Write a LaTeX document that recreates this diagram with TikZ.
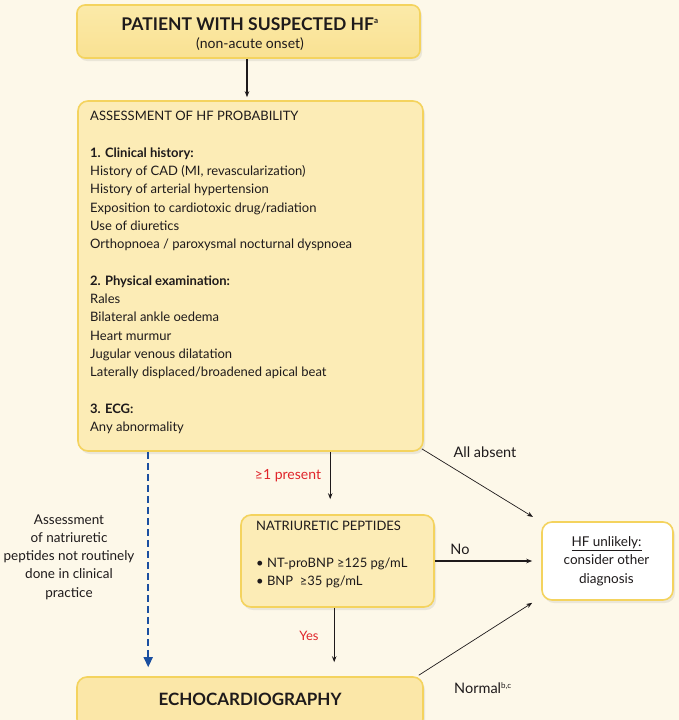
\documentclass[tikz,border=0pt]{standalone}
\usepackage{fontspec}
\setmainfont{Lato}
\usetikzlibrary{arrows.meta,calc,shadows}
\definecolor{bg}{HTML}{FDF8E9}
\definecolor{boxfill}{HTML}{FCECB6}
\definecolor{boxline}{HTML}{F4D35E}
\definecolor{topA}{HTML}{FBEAA9}
\definecolor{topB}{HTML}{F9E192}
\definecolor{echofill}{HTML}{FBE7A8}
\definecolor{txt}{HTML}{1E1A1B}
\definecolor{redtxt}{HTML}{E0242A}
\definecolor{bluearr}{HTML}{1B4FA0}
\begin{document}
\begin{tikzpicture}[x=1pt,y=-1pt,
  font=\fontsize{13}{18.3}\selectfont, text=txt,
  box/.style={draw=boxline, line width=1.6pt, fill=boxfill, rounded corners=10pt,
    inner sep=0pt, drop shadow={opacity=0.10, shadow xshift=2pt, shadow yshift=-3pt, fill=black!70}},
  whitebox/.style={box, fill=white},
  topbox/.style={box, rounded corners=8pt, top color=topA, bottom color=topB},
  lbl/.style={inner sep=0pt, align=left},
  arr/.style={draw=txt, line width=1.2pt, -{Stealth[length=6pt,width=4.5pt]}},
  thin/.style={draw=txt, line width=0.7pt, -{Stealth[length=6pt,width=4.5pt]}},
  dasharr/.style={draw=bluearr, line width=1.5pt, dash pattern=on 7pt off 4pt,
    -{Triangle[length=10pt,width=9pt]}},
  redlbl/.style={text=redtxt, inner sep=0pt},
  biglbl/.style={inner sep=0pt, font=\fontsize{14.5}{18}\selectfont},
]
\clip (0,0) rectangle (679,720);
\fill[bg] (0,0) rectangle (679,720);
\useasboundingbox (0,0) rectangle (679,720);

% boxes
\node[topbox, minimum width=343pt, minimum height=53pt] (top) at (248.5,31.5) {};
\node[box, minimum width=345pt, minimum height=350pt] (assess) at (250.5,276) {};
\node[box, minimum width=193pt, minimum height=92pt] (nat) at (337.5,561) {};
\node[whitebox, minimum width=131pt, minimum height=78pt] (hf) at (607.5,561) {};
\node[box, fill=echofill, minimum width=346pt, minimum height=52pt] (echo) at (250,703) {};

% texts
\node[inner sep=0pt, align=center] (toptxt) at (250,34)
  {{\fontsize{17.5}{20}\selectfont\bfseries PATIENT WITH SUSPECTED HF\textsuperscript{\fontsize{8}{8}\selectfont a}}\\[0pt]
   {\fontsize{14}{18}\selectfont (non-acute onset)}};

\node[lbl, anchor=north west] (assesstxt) at (90,111)
  {ASSESSMENT OF HF PROBABILITY\\[18.3pt]
   \textbf{1. Clinical history:}\\
   History of CAD (MI, revascularization)\\
   History of arterial hypertension\\
   Exposition to cardiotoxic drug/radiation\\
   Use of diuretics\\
   Orthopnoea / paroxysmal nocturnal dyspnoea\\[18.3pt]
   \textbf{2. Physical examination:}\\
   Rales\\
   Bilateral ankle oedema\\
   Heart murmur\\
   Jugular venous dilatation\\
   Laterally displaced/broadened apical beat\\[18.3pt]
   \textbf{3. ECG:}\\
   Any abnormality};

\node[lbl, anchor=north west] (nattxt) at (256,521)
  {NATRIURETIC PEPTIDES\\[18.3pt]
   • NT-proBNP ≥125 pg/mL\\
   • BNP\ \ ≥35 pg/mL};

\node[inner sep=0pt, align=center, font=\fontsize{13.5}{18.5}\selectfont] (hftxt) at (606.5,561)
  {\underline{HF unlikely:}\\ consider other\\ diagnosis};

\node[inner sep=0pt] (echotxt) at (250,699)
  {\fontsize{17}{20}\selectfont\bfseries ECHOCARDIOGRAPHY};

\node[inner sep=0pt, align=center, font=\fontsize{13.5}{18.2}\selectfont] (lefttxt) at (69,557)
  {Assessment\\ of natriuretic\\ peptides not routinely\\ done in clinical\\ practice};

% connectors
\draw[arr, shorten >=3pt] (top.south -| 247,0) -- (assess.north -| 247,0);
\coordinate (a1) at ($(assess.south west)+(253,0)$);
\coordinate (n1) at ($(nat.north west)+(90,0)$);
\draw[arr, shorten >=15pt] (a1) -- (n1);
\node[redlbl, font=\fontsize{14}{18}\selectfont] (present) at (288,476) {≥1 present};

\coordinate (a2) at ($(assess.south west)+(71,0)$);
\coordinate (e2) at ($(echo.north west)+(72,0)$);
\draw[dasharr, shorten >=9pt] (a2) -- (e2);

\coordinate (a3) at ($(assess.south east)+(-2,-3)$);
\coordinate (h3) at ($(hf.north west)+(2,2)$);
\draw[thin, shorten >=12pt] (a3) -- (h3);
\node[biglbl] (absent) at (485,452) {All absent};

\draw[arr, shorten >=9pt] (nat.east) -- (hf.west);
\node[biglbl] (no) at (460,549) {No};

\coordinate (n4) at ($(nat.south west)+(94,0)$);
\coordinate (e4) at ($(echo.north west)+(258,0)$);
\draw[arr, shorten >=14pt] (n4) -- (e4);
\node[redlbl] (yes) at (309,636) {Yes};

\coordinate (e5) at ($(echo.north east)+(-5,-1)$);
\coordinate (h5) at ($(hf.south west)+(-9,2)$);
\draw[thin] (e5) -- (h5);
\node[biglbl] (normal) at (483,688) {Normal\textsuperscript{\fontsize{8}{8}\selectfont b,c}};
\end{tikzpicture}
\end{document}
